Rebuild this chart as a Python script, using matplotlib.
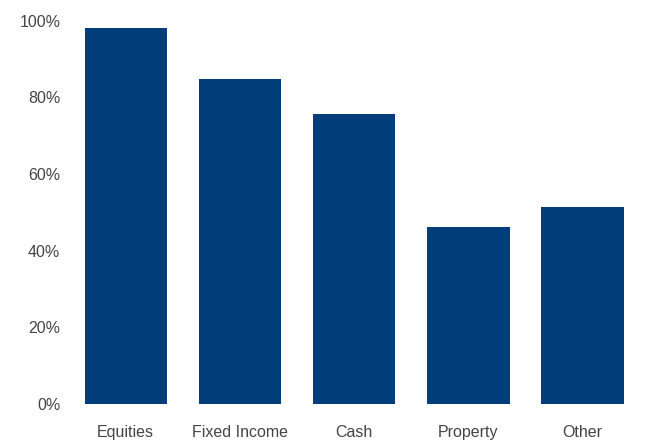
import matplotlib
matplotlib.use('Agg')
import matplotlib.pyplot as plt
from matplotlib.ticker import FuncFormatter

categories = ["Equities", "Fixed Income", "Cash", "Property", "Other"]
values = [98.0, 84.8, 75.6, 46.2, 51.3]
yticks = [0, 20, 40, 60, 80, 100]

plt.rcParams['font.family'] = ['Liberation Sans', 'DejaVu Sans']

fig = plt.figure(figsize=(6.49, 4.44), dpi=100)
ax = fig.add_axes([0.1057, 0.0901, 0.88, 0.8633])

x = range(len(categories))
ax.bar(x, values, width=0.72, color="#023d7b")

ax.set_xlim(-0.5, len(categories) - 0.5)
ax.set_ylim(0, 100)
ax.set_yticks(yticks)
ax.yaxis.set_major_formatter(FuncFormatter(lambda v, p: f"{v:.0f}%"))
ax.set_xticks(list(x))
ax.set_xticklabels(categories)

for s in ax.spines.values():
    s.set_visible(False)
ax.tick_params(axis='both', length=0, labelsize=11.5, colors="#444444")
ax.tick_params(axis='x', pad=15)
ax.tick_params(axis='y', pad=6)

fig.savefig("out.png", dpi=100)
